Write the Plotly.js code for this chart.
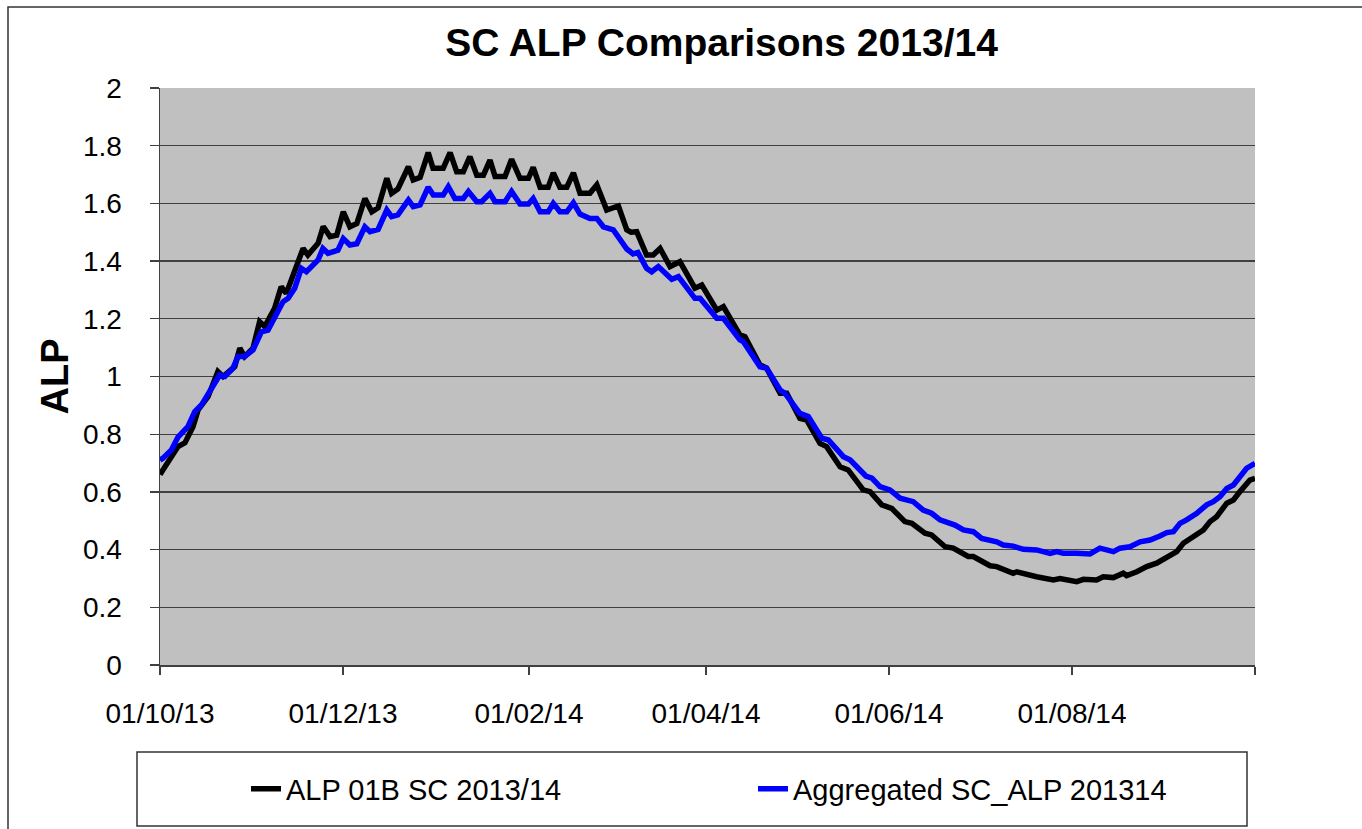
<!DOCTYPE html>
<html>
<head>
<meta charset="utf-8">
<script src="https://cdn.plot.ly/plotly-3.0.1.min.js"></script>
<style>html,body{margin:0;padding:0;background:#fff;}#chart{width:1362px;height:829px;}</style>
</head>
<body>
<div id="chart"></div>
<script>
// Day offsets from 01/10/2013 and ALP values
const startDate = '2013-10-01';
const endDate = '2014-10-01';

const blackName = 'ALP 01B SC 2013/14';
const blackDays = [0,1,6,8.3,11,12.7,16,19.3,21,24.9,26.6,28.2,31,33.2,34.9,38.2,40.4,42.1,44.3,47.7,49.3,52.7,54.4,56.7,58.9,61.1,63.3,65.6,68.3,70.6,72.7,75.6,77.2,79.3,82.8,84.4,86.7,89.4,91,94.4,96.7,98.9,101.1,103.3,105.6,107.8,110,111.7,115,117.2,120,122.8,124.4,126.7,129.4,131.1,133.3,135.6,137.8,140,143.3,145.6,148.9,152.8,155.6,157,158.9,162.2,164.4,166.7,170,171.1,173.3,178.3,180.6,185.6,187.8,193.3,195,200,202.2,206.7,208.9,213.3,215.6,220,222.2,226.7,229.4,234.4,236.7,240.6,243.9,248.3,250.6,255,257.2,261.7,264.4,269.4,271.1,276.7,278.9,284.4,285.6,292.2,297.8,300,305.6,307.8,312.2,314.4,317.8,321.1,322.2,325.6,328.9,332.2,335.6,338.9,341.1,344.4,347.8,350,352.2,355.6,357.8,360,363.3,365];
const blackVals = [0.66,0.676,0.757,0.77,0.826,0.884,0.93,1.017,1.0,1.034,1.098,1.069,1.098,1.19,1.173,1.236,1.311,1.288,1.346,1.444,1.421,1.462,1.52,1.485,1.49,1.571,1.519,1.53,1.617,1.571,1.585,1.687,1.635,1.65,1.727,1.681,1.69,1.776,1.722,1.722,1.776,1.71,1.71,1.762,1.698,1.698,1.75,1.693,1.693,1.753,1.687,1.687,1.725,1.656,1.656,1.706,1.656,1.656,1.706,1.635,1.635,1.664,1.577,1.591,1.508,1.50,1.502,1.421,1.421,1.444,1.381,1.386,1.398,1.306,1.317,1.23,1.242,1.144,1.138,1.04,1.029,0.942,0.942,0.855,0.849,0.768,0.757,0.687,0.676,0.607,0.601,0.555,0.543,0.497,0.491,0.457,0.451,0.41,0.405,0.376,0.376,0.344,0.341,0.318,0.323,0.306,0.295,0.3,0.289,0.297,0.295,0.306,0.303,0.318,0.31,0.323,0.341,0.353,0.376,0.393,0.422,0.445,0.468,0.497,0.514,0.561,0.572,0.601,0.641,0.647];

const blueName = 'Aggregated SC_ALP 201314';
const blueDays = [0,1,3.8,6,9.3,11.6,13.8,16,19.9,21.6,24.3,26,28.2,31,33.8,36,38.8,41,42.7,44.9,47.1,48.8,52.7,54.3,56,59.3,61.1,63.3,65.6,68.3,70,72.7,75.6,77.2,79.3,82.8,84.4,86.7,89.4,91.1,94.4,96.1,98.3,101.1,102.8,105.6,107.2,110,111.7,115,117.2,120,122.8,124.4,126.7,129.4,131.1,133.3,135.6,137.8,140,143.3,145.6,147.8,151.1,155.6,157.7,159.3,162.2,163.9,166.1,170.6,172.8,178.3,180,185.6,187.8,193.3,194.4,200,202.2,206.7,208.3,213.3,216.1,220.6,222.8,227.8,230,235.3,237.3,240,243.3,246.7,251.1,254.4,257.2,260,265,267.8,271.1,273.9,278.9,281.1,284.4,287.8,292.2,296.7,298.9,301.1,305.6,310,313.3,317.8,320,323.3,326.7,330,333.3,335.6,337.8,340,342.2,345.6,348.9,351.1,353.3,355.6,357.8,360,362.2,365];
const blueVals = [0.71,0.717,0.745,0.79,0.826,0.878,0.901,0.942,1.005,1.0,1.028,1.069,1.069,1.092,1.155,1.161,1.213,1.259,1.271,1.306,1.375,1.363,1.404,1.444,1.427,1.438,1.478,1.456,1.46,1.519,1.502,1.51,1.577,1.554,1.56,1.612,1.589,1.595,1.656,1.629,1.629,1.658,1.617,1.617,1.641,1.606,1.606,1.635,1.606,1.606,1.641,1.598,1.598,1.617,1.571,1.571,1.6,1.571,1.571,1.602,1.563,1.548,1.548,1.519,1.508,1.442,1.425,1.43,1.375,1.363,1.381,1.337,1.346,1.271,1.271,1.202,1.202,1.127,1.121,1.034,1.029,0.953,0.942,0.872,0.861,0.786,0.78,0.722,0.711,0.655,0.648,0.618,0.607,0.578,0.566,0.537,0.526,0.503,0.485,0.468,0.462,0.439,0.427,0.416,0.412,0.401,0.399,0.387,0.393,0.387,0.387,0.385,0.405,0.393,0.405,0.41,0.427,0.433,0.447,0.459,0.462,0.491,0.503,0.526,0.555,0.566,0.583,0.612,0.624,0.653,0.682,0.699];

const xTickDates = ['2013-10-01','2013-12-01','2014-02-01','2014-04-01','2014-06-01','2014-08-01','2014-10-01'];
const xTickLabels = ['01/10/13','01/12/13','01/02/14','01/04/14','01/06/14','01/08/14',''];

const chartTitle = 'SC ALP Comparisons 2013/14';
const yTitle = 'ALP';

function toDates(days) {
  const t0 = Date.parse(startDate + 'T00:00:00Z');
  return days.map(d => new Date(t0 + d * 86400000).toISOString().slice(0, 19).replace('T', ' '));
}

const FONT = '"Liberation Sans", Arial, Helvetica, sans-serif';

const traces = [
  { x: toDates(blackDays), y: blackVals, name: blackName, type: 'scatter', mode: 'lines',
    line: { color: '#000000', width: 5.5 } },
  { x: toDates(blueDays), y: blueVals, name: blueName, type: 'scatter', mode: 'lines',
    line: { color: '#0000FF', width: 5.5 } }
];

// pixel helpers for paper coords of plot area (160..1255 x, 88..665 y)
const px = x => (x - 160) / 1095;
const py = y => (665 - y) / 577;

const layout = {
  width: 1362, height: 829, autosize: false,
  margin: { l: 160, r: 107, t: 88, b: 164 },
  paper_bgcolor: '#ffffff', plot_bgcolor: '#C0C0C0',
  font: { family: FONT, color: '#000', size: 28 },
  hovermode: false,
  title: { text: chartTitle, font: { family: FONT, size: 39, color: '#000', weight: 'bold' },
    x: px(721.5), xref: 'paper', xanchor: 'center', y: 1 - 42 / 829, yref: 'container', yanchor: 'middle' },
  xaxis: {
    type: 'date', range: [startDate, endDate],
    tickmode: 'array', tickvals: xTickDates, ticktext: xTickLabels,
    ticks: 'outside', ticklen: 8, tickwidth: 1.3, tickcolor: '#404040',
    showline: true, linecolor: '#404040', linewidth: 1.5,
    showgrid: false, zeroline: false,
    ticklabelstandoff: 15,
    tickfont: { family: FONT, size: 28, color: '#000' }
  },
  yaxis: {
    range: [0, 2], tickmode: 'linear', tick0: 0, dtick: 0.2,
    ticks: 'outside', ticklen: 9, tickwidth: 1.3, tickcolor: '#404040',
    showline: true, linecolor: '#404040', linewidth: 1.5,
    showgrid: true, gridcolor: '#404040', gridwidth: 1.3,
    zeroline: false, ticklabelstandoff: 22,
    tickfont: { family: FONT, size: 28, color: '#000' },
    title: { text: yTitle, font: { family: FONT, size: 38, color: '#000', weight: 'bold' }, standoff: 2 }
  },
  showlegend: true,
  legend: {
    orientation: 'h', x: px(246), xanchor: 'left', y: py(789), yanchor: 'middle',
    bgcolor: 'rgba(0,0,0,0)', borderwidth: 0,
    entrywidth: 462, entrywidthmode: 'pixels',
    font: { family: FONT, size: 29, color: '#000' }, traceorder: 'normal'
  },
  shapes: [
    { type: 'rect', xref: 'paper', yref: 'paper', x0: px(8), x1: px(1372), y0: py(840), y1: py(7),
      line: { color: '#333333', width: 1.5 }, fillcolor: 'rgba(0,0,0,0)', layer: 'below' },
    { type: 'rect', xref: 'paper', yref: 'paper', x0: px(137), x1: px(1247), y0: py(826), y1: py(752),
      line: { color: '#333333', width: 1.5 }, fillcolor: 'rgba(0,0,0,0)' }
  ]
};

Plotly.newPlot('chart', traces, layout, { staticPlot: true, displayModeBar: false });
</script>
</body>
</html>
